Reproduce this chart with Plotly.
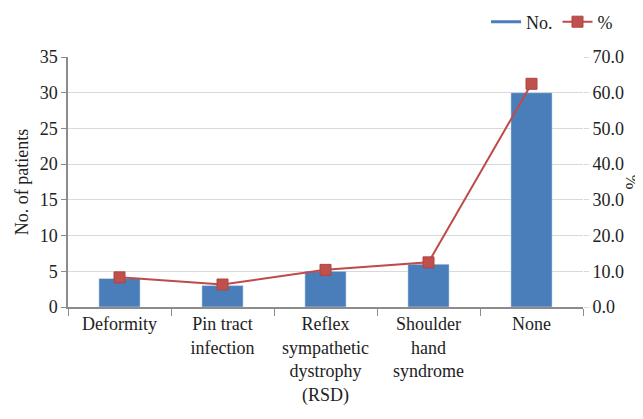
import plotly.graph_objects as go

categories = ["Deformity", "Pin tract<br>infection", "Reflex<br>sympathetic<br>dystrophy<br>(RSD)",
              "Shoulder<br>hand<br>syndrome", "None"]
counts = [4, 3, 5, 6, 30]
percents = [8.3, 6.3, 10.4, 12.5, 62.5]
left_ticks = [0, 5, 10, 15, 20, 25, 30, 35]
right_ticks = [0, 10, 20, 30, 40, 50, 60, 70]

FONT = "Liberation Serif, Times New Roman, serif"
BLUE = "#4A7EBB"
RED = "#BE4B48"
W, H = 635, 411

def f(size=18):
    return dict(family=FONT, size=size, color="#222")

fig = go.Figure()
fig.add_trace(go.Bar(x=categories, y=counts, name="No.", marker_color=BLUE,
                     width=0.4, showlegend=False))
fig.add_trace(go.Scatter(x=[None], y=[None], mode="lines", name="No.",
                         line=dict(color=BLUE, width=3)))
fig.add_trace(go.Scatter(x=categories, y=percents, name="%", yaxis="y2",
                         mode="lines+markers",
                         line=dict(color=RED, width=2),
                         marker=dict(symbol="square", size=11, color="#C0504D",
                                     line=dict(color="#B04440", width=1))))

fig.update_layout(
    width=W, height=H,
    margin=dict(l=60, r=60, t=49, b=112, autoexpand=False),
    paper_bgcolor="white", plot_bgcolor="white",
    font=f(),
    legend=dict(orientation="h", x=(618 - 8) / W, xanchor="right", xref="container",
                y=1 - 14 / H, yanchor="middle", yref="container",
                font=f(), itemwidth=30, bgcolor="rgba(0,0,0,0)"),
    xaxis=dict(type="category", showline=True, linecolor="#8c8c8c", linewidth=1.5,
               ticks="outside", tickson="boundaries", ticklen=7, tickcolor="#8c8c8c",
               showgrid=False, tickfont=f(), automargin=False, tickangle=0),
    yaxis=dict(range=[0, 35], tickvals=left_ticks, showline=True, linecolor="#8c8c8c",
               linewidth=1.5, ticks="outside", ticklen=5, tickcolor="#8c8c8c",
               gridcolor="#d9d9d9", zeroline=False, tickfont=f(), automargin=False,
               title=dict(text="No. of patients", standoff=6, font=f())),
    yaxis2=dict(range=[0, 70], tickvals=right_ticks, tickformat=".1f", overlaying="y",
                side="right", showline=False, showgrid=False, zeroline=False,
                ticks="outside", ticklen=5, tickcolor="#d9d9d9", tickfont=f(),
                automargin=False,
                title=dict(text="%", standoff=4, font=f())),
)

fig.write_html("out.html")
